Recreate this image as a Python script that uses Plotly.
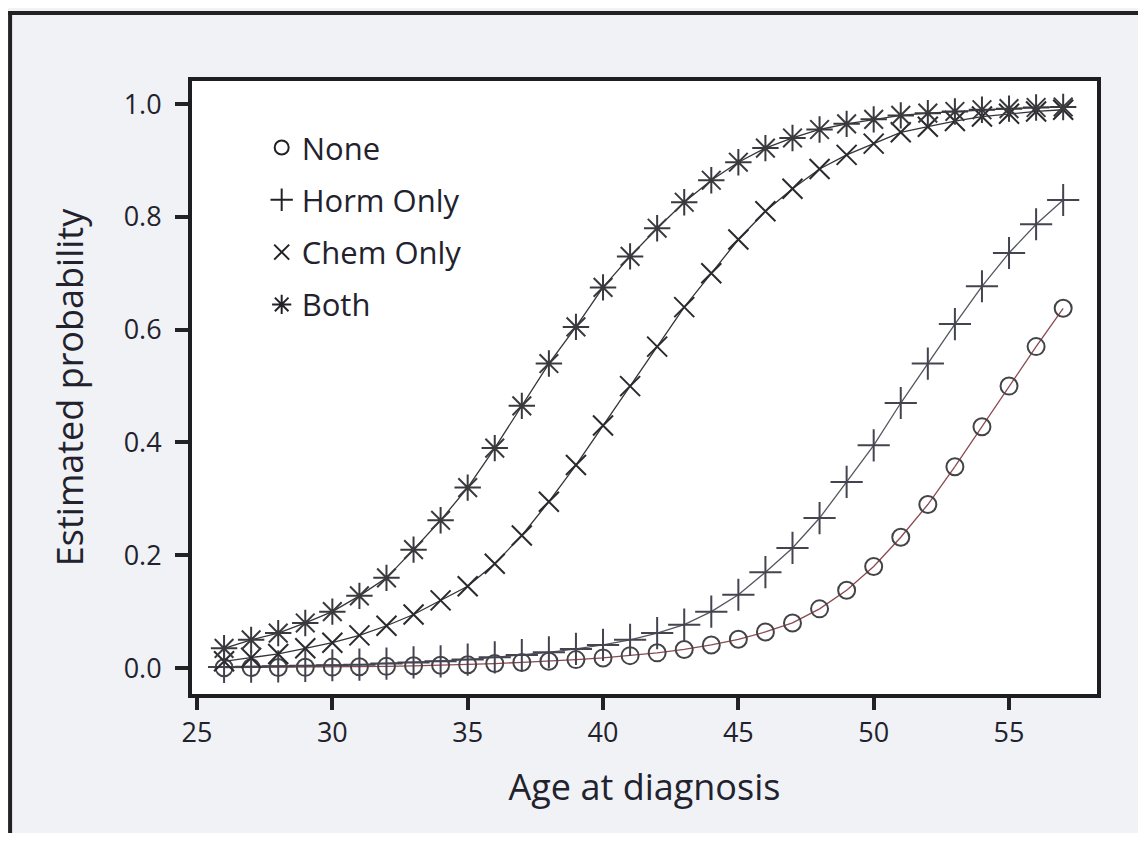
import plotly.graph_objects as go

ages = list(range(26, 58))

none_p = [0.0006, 0.0008, 0.001, 0.0013, 0.0017, 0.0022, 0.003, 0.004, 0.005, 0.006,
          0.008, 0.010, 0.012, 0.015, 0.018, 0.022, 0.027, 0.033, 0.041, 0.051,
          0.064, 0.080, 0.105, 0.138, 0.180, 0.232, 0.290, 0.357, 0.428, 0.500,
          0.570, 0.638]
horm_p = [0.002, 0.0025, 0.003, 0.004, 0.005, 0.006, 0.008, 0.010, 0.012, 0.015,
          0.019, 0.023, 0.028, 0.034, 0.041, 0.050, 0.062, 0.077, 0.100, 0.130,
          0.170, 0.213, 0.266, 0.330, 0.395, 0.470, 0.540, 0.610, 0.677, 0.736,
          0.787, 0.830]
chem_p = [0.012, 0.018, 0.025, 0.035, 0.045, 0.058, 0.075, 0.095, 0.120, 0.145,
          0.185, 0.235, 0.295, 0.360, 0.430, 0.500, 0.570, 0.640, 0.700, 0.760,
          0.810, 0.850, 0.885, 0.910, 0.930, 0.950, 0.960, 0.970, 0.978, 0.983,
          0.987, 0.990]
both_p = [0.035, 0.050, 0.062, 0.080, 0.100, 0.128, 0.160, 0.210, 0.262, 0.320,
          0.390, 0.465, 0.540, 0.605, 0.675, 0.730, 0.780, 0.826, 0.865, 0.897,
          0.922, 0.940, 0.955, 0.965, 0.973, 0.980, 0.984, 0.987, 0.990, 0.992,
          0.994, 0.995]

series_names = ["None", "Horm Only", "Chem Only", "Both"]
series_vals = [none_p, horm_p, chem_p, both_p]
symbols = ["circle-open", "cross-thin-open", "x-thin-open", "asterisk-open"]
sizes = [17, 23, 20, 22]
legend_sizes = [14, 21, 15, 19]
line_colors = ["#8a4a50", "#555560", "#333338", "#333338"]
marker_colors = ["#444448", "#444450", "#2a2a2e", "#3a3a3e"]

x_ticks = [25, 30, 35, 40, 45, 50, 55]
y_ticks = [0.0, 0.2, 0.4, 0.6, 0.8, 1.0]

FONT = "Open Sans"
TXT = "#22222e"
W = 500

fig = go.Figure()
for i, (name, vals) in enumerate(zip(series_names, series_vals)):
    fig.add_trace(go.Scatter(
        x=ages, y=vals, mode="lines+markers", showlegend=False,
        line=dict(color=line_colors[i], width=1.3),
        marker=dict(symbol=symbols[i], size=sizes[i], color=marker_colors[i],
                    line=dict(width=2, color=marker_colors[i])),
    ))
for i, name in enumerate(series_names):
    fig.add_trace(go.Scatter(
        x=[None], y=[None], mode="markers", name=name, legendgroup=name,
        marker=dict(symbol=symbols[i], size=legend_sizes[i], color="#222226",
                    line=dict(width=2, color="#222226")),
    ))

fig.update_layout(
    width=1130, height=825,
    margin=dict(l=184, r=41, t=73, b=139),
    paper_bgcolor="#f0f2f5",
    plot_bgcolor="white",
    font=dict(family=FONT, color=TXT, size=27),
    legend=dict(x=0.077, y=0.935, xanchor="left", yanchor="top",
                bgcolor="rgba(0,0,0,0)", font=dict(size=31, family=FONT, color=TXT, weight=W),
                tracegroupgap=9, itemwidth=30),
    xaxis=dict(range=[24.815, 58.25], tickvals=x_ticks, ticks="outside", ticklen=12,
               tickwidth=4, tickcolor="#222", showgrid=False, zeroline=False,
               showline=True, linewidth=4, linecolor="#1e1e22", mirror=True,
               tickfont=dict(size=27, family=FONT, color=TXT, weight=W),
               title=dict(text="Age at diagnosis", font=dict(size=36, family=FONT, color=TXT, weight=W),
                          standoff=26)),
    yaxis=dict(range=[-0.046, 1.041], tickvals=y_ticks, tickformat=".1f", ticks="outside",
               ticklen=13, tickwidth=4, tickcolor="#222", showgrid=False, zeroline=False,
               showline=True, linewidth=4, linecolor="#1e1e22", mirror=True,
               ticklabelstandoff=8,
               tickfont=dict(size=27, family=FONT, color=TXT, weight=W),
               title=dict(text="Estimated probability", font=dict(size=36, family=FONT, color=TXT, weight=W),
                          standoff=30)),
)

# outer scan frame (top and left edges)
fig.add_shape(type="line", xref="paper", yref="paper", x0=-0.203, x1=1.06, y0=1.111, y1=1.111,
              line=dict(color="#222", width=4))
fig.add_shape(type="line", xref="paper", yref="paper", x0=-0.201, x1=-0.201, y0=1.114, y1=-0.25,
              line=dict(color="#222", width=4))

fig.write_html("out.html")
